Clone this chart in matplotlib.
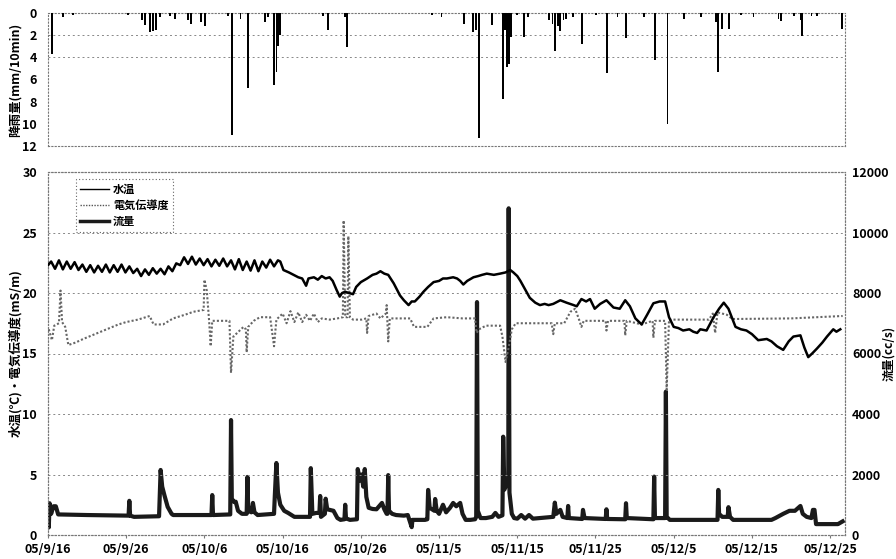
import matplotlib
matplotlib.use("Agg")
import matplotlib.pyplot as plt
from matplotlib.lines import Line2D

plt.rcParams['font.family'] = ['Noto Sans CJK JP', 'DejaVu Sans']
plt.rcParams['font.weight'] = 'bold'

# ---------------- data (x = days since 2005-09-16) ----------------
date_ticks = [0, 10, 20, 30, 40, 50, 60, 70, 80, 90, 100]
date_labels = ["05/9/16", "05/9/26", "05/10/6", "05/10/16", "05/10/26", "05/11/5",
               "05/11/15", "05/11/25", "05/12/5", "05/12/15", "05/12/25"]

rain_days = [0.5, 1.9, 3.2, 10.2, 12.0, 12.4, 13.0, 13.4, 13.8, 14.3, 15.6, 16.2, 17.9, 18.3,
             19.6, 20.1, 23.0, 23.5, 24.6, 25.6, 27.7, 28.1, 28.9, 29.2, 29.4, 29.7, 35.2, 35.8,
             38.0, 38.2, 49.1, 50.3, 53.2, 54.3, 54.7, 55.1, 56.8, 58.2, 58.4, 58.7, 58.9, 59.2,
             60.0, 60.9, 61.4, 64.1, 64.5, 64.8, 65.2, 65.5, 65.9, 66.2, 67.1, 68.3, 70.1, 71.5,
             72.8, 73.9, 76.2, 77.6, 79.2, 81.3, 83.5, 85.4, 85.7, 86.2, 87.1, 88.6, 90.2, 93.4,
             93.7, 95.4, 96.2, 96.4, 97.6, 98.3, 101.5]
rain_mm = [3.7, 0.4, 0.2, 0.2, 0.6, 1.1, 1.7, 1.6, 1.5, 0.4, 0.3, 0.5, 0.6, 1.0,
           0.8, 1.2, 0.3, 11.0, 0.5, 6.8, 0.8, 0.4, 6.5, 5.3, 3.0, 2.0, 0.3, 1.5,
           0.4, 3.1, 0.2, 0.4, 1.0, 1.7, 1.5, 11.3, 1.1, 7.8, 1.5, 4.9, 4.6, 2.2,
           0.2, 2.2, 0.4, 0.6, 1.0, 3.4, 1.2, 1.6, 0.6, 0.5, 0.4, 2.8, 0.2, 5.4,
           0.4, 2.3, 0.4, 4.2, 10.0, 0.5, 0.4, 0.8, 5.3, 1.4, 1.4, 0.2, 0.4, 0.5,
           0.7, 0.3, 0.6, 2.1, 0.3, 0.3, 1.4]

temp_days = [0.0, 0.4, 0.9, 1.4, 1.9, 2.4, 2.9, 3.4, 3.9, 4.4, 4.9, 5.4, 5.9, 6.4, 6.9, 7.4, 7.9,
             8.4, 8.9, 9.4, 9.9, 10.4, 10.9, 11.4, 11.9, 12.4, 12.9, 13.4, 13.9, 14.4, 14.9,
             15.4, 15.9, 16.4, 16.9, 17.4, 17.9, 18.4, 18.9, 19.4, 19.9, 20.4, 20.9, 21.4, 21.9,
             22.4, 22.9, 23.4, 23.9, 24.4, 24.9, 25.4, 25.9, 26.4, 26.9, 27.4, 27.9, 28.4, 28.9,
             29.4, 29.7, 30.1, 30.8, 31.4, 32.0, 32.5, 33.0, 33.3, 34.0, 34.5, 35.0, 35.5, 36.0,
             36.4, 36.9, 37.3, 37.6, 38.0, 38.5, 39.0, 39.4, 40.0, 40.8, 41.5, 42.0, 42.5, 43.0,
             43.5, 44.2, 45.0, 45.5, 46.1, 46.5, 46.9, 47.5, 48.0, 48.6, 49.3, 50.0, 50.5, 51.0,
             51.8, 52.3, 52.7, 53.1, 53.6, 54.4, 55.0, 55.5, 56.1, 57.0, 57.8, 58.5, 59.1, 59.5,
             60.0, 60.4, 61.0, 61.6, 62.3, 62.9, 63.5, 64.0, 64.6, 65.5, 66.3, 67.2, 67.6, 68.2,
             68.8, 69.3, 69.9, 70.6, 71.4, 72.3, 73.1, 73.8, 74.4, 75.1, 75.9, 76.6, 77.4, 78.2,
             78.9, 79.4, 80.0, 80.6, 81.2, 82.0, 82.5, 83.0, 83.4, 84.2, 85.1, 85.8, 86.4, 87.0,
             87.9, 88.6, 89.3, 90.0, 90.8, 91.9, 92.5, 93.2, 94.0, 94.7, 95.3, 96.2, 96.7, 97.2,
             97.7, 98.3, 99.0, 99.6, 100.4, 100.8, 101.3]
temp_vals = [22.3, 22.6, 22.0, 22.7, 21.95, 22.6, 22.0, 22.55, 21.9, 22.35, 21.75, 22.3, 21.7,
             22.25, 21.75, 22.35, 21.7, 22.3, 21.75, 22.35, 21.7, 22.2, 21.65, 22.0, 21.4,
             21.95, 21.5, 22.05, 21.6, 22.0, 21.55, 22.2, 21.8, 22.45, 22.3, 22.95, 22.4, 23.0,
             22.35, 22.85, 22.3, 22.8, 22.2, 22.75, 22.25, 22.85, 22.2, 22.7, 21.95, 22.8, 21.9,
             22.6, 21.85, 22.7, 21.8, 22.6, 22.1, 22.75, 22.2, 22.7, 22.6, 21.9, 21.7, 21.5,
             21.3, 21.2, 20.6, 21.2, 21.3, 21.1, 21.4, 21.2, 21.3, 21.0, 20.25, 19.7, 20.0, 20.1,
             20.0, 19.9, 20.5, 20.9, 21.2, 21.5, 21.6, 21.8, 21.6, 21.5, 20.8, 19.8, 19.4, 19.0,
             19.3, 19.3, 19.7, 20.1, 20.5, 20.9, 21.0, 21.2, 21.2, 21.3, 21.2, 21.0, 20.7, 21.0,
             21.3, 21.4, 21.5, 21.6, 21.5, 21.6, 21.7, 21.9, 21.7, 21.4, 21.0, 20.3, 19.6, 19.2,
             19.0, 19.1, 19.0, 19.1, 19.4, 19.2, 19.0, 18.9, 19.5, 19.3, 19.5, 18.7, 19.1, 19.4,
             18.8, 18.7, 19.4, 18.9, 17.9, 17.4, 18.2, 19.15, 19.3, 19.3, 18.0, 17.2, 17.1, 16.9,
             17.0, 16.8, 16.7, 17.0, 16.9, 18.0, 18.7, 19.2, 18.7, 17.2, 17.0, 16.9, 16.6, 16.1,
             16.2, 16.0, 15.6, 15.3, 16.0, 16.4, 16.5, 15.5, 14.7, 15.0, 15.4, 15.9, 16.4, 17.0,
             16.8, 17.0]

ec_days = [0.1, 0.5, 0.8, 1.4, 1.6, 1.8, 2.2, 2.6, 3.5, 4.5, 6.0, 7.5, 9.0, 10.0, 11.5, 13.0,
           13.5, 14.7, 16.0, 17.5, 18.6, 19.9, 20.0, 20.3, 20.6, 20.8, 21.0, 23.2, 23.4, 23.7,
           25.0, 25.3, 25.4, 25.6, 26.3, 27.1, 28.4, 28.9, 29.2, 30.0, 30.5, 31.0, 31.5, 32.0,
           32.5, 33.0, 33.5, 34.0, 34.5, 35.0, 36.0, 37.0, 37.7, 37.8, 38.0, 38.3, 38.4, 38.6,
           39.0, 40.1, 40.7, 40.8, 41.0, 42.0, 42.5, 43.2, 43.3, 43.5, 43.7, 44.5, 46.3, 46.8,
           48.5, 49.3, 51.0, 53.0, 54.6, 54.8, 55.1, 56.0, 57.8, 58.1, 58.5, 58.9, 59.3, 59.8,
           62.0, 64.4, 64.6, 64.8, 66.0, 66.8, 67.4, 67.9, 68.2, 68.5, 71.3, 71.4, 71.6, 73.7,
           73.8, 74.0, 75.9, 77.3, 77.4, 77.6, 78.9, 79.1, 79.4, 84.5, 85.0, 85.3, 85.6, 86.8,
           87.5, 95.0, 101.6]
ec_vals = [17.0, 16.1, 17.3, 17.5, 20.2, 17.6, 17.2, 15.7, 15.9, 16.2, 16.6, 17.0, 17.4, 17.6,
           17.8, 18.1, 17.4, 17.4, 17.9, 18.2, 18.45, 18.6, 21.1, 20.2, 17.7, 15.6, 17.7, 17.7,
           13.4, 16.4, 17.2, 17.0, 15.1, 17.2, 17.7, 18.0, 18.0, 15.6, 17.8, 18.3, 17.5, 18.5,
           17.6, 18.4, 17.6, 18.2, 17.7, 18.3, 17.6, 17.9, 17.8, 17.9, 18.0, 26.0, 18.0, 18.0,
           24.7, 18.0, 17.8, 17.8, 17.9, 16.7, 18.1, 18.3, 17.9, 18.3, 19.0, 16.0, 17.9, 17.9,
           17.9, 17.2, 17.2, 17.9, 18.0, 17.9, 17.9, 16.7, 17.0, 17.3, 17.3, 16.4, 14.3, 15.5,
           17.0, 17.5, 17.5, 17.5, 16.6, 17.5, 17.5, 18.45, 18.7, 17.8, 17.2, 17.7, 17.7, 16.9,
           17.7, 17.7, 16.5, 17.7, 17.4, 17.7, 16.3, 17.7, 17.7, 12.0, 17.8, 17.8, 18.3, 16.7,
           18.4, 18.2, 17.85, 17.9, 18.1]

flow_days = [0.05, 0.1, 0.2, 0.4, 0.7, 1.0, 1.3, 5.0, 10.3, 10.4, 10.5, 11.0, 14.2, 14.4, 14.6,
             14.9, 15.3, 15.8, 16.0, 20.9, 21.0, 21.1, 23.3, 23.4, 23.5, 23.8, 24.0, 24.3, 24.8,
             25.4, 25.5, 25.6, 26.0, 26.2, 26.4, 26.8, 28.9, 29.0, 29.2, 29.4, 29.7, 30.2, 30.7,
             31.5, 33.5, 33.6, 33.8, 34.3, 34.7, 34.8, 34.9, 35.4, 35.5, 35.7, 36.0, 36.5, 37.0,
             37.4, 37.9, 38.0, 38.1, 38.6, 39.5, 39.6, 39.9, 40.1, 40.3, 40.5, 40.7, 41.0, 41.5,
             42.0, 42.7, 43.0, 43.3, 43.4, 43.5, 43.6, 44.0, 44.5, 45.5, 46.0, 46.5, 46.6, 47.5,
             48.2, 48.5, 48.6, 48.8, 49.4, 49.5, 49.7, 50.0, 50.5, 50.9, 51.4, 51.8, 52.2, 52.7,
             53.0, 53.4, 54.0, 54.6, 54.75, 54.85, 54.95, 55.3, 56.0, 56.8, 57.2, 57.6, 58.1,
             58.2, 58.35, 58.85, 58.9, 59.0, 59.3, 59.6, 60.0, 60.5, 61.0, 61.5, 62.0, 64.6,
             64.8, 65.0, 65.2, 65.5, 65.8, 66.4, 66.5, 66.6, 68.3, 68.4, 68.6, 71.3, 71.4, 71.5,
             73.8, 73.9, 74.0, 77.4, 77.5, 77.6, 78.9, 79.0, 79.1, 79.5, 85.6, 85.7, 85.8, 86.2,
             86.9, 87.0, 87.2, 87.6, 92.5, 93.0, 94.0, 94.8, 95.5, 96.2, 96.5, 97.0, 97.6, 97.8,
             98.0, 98.2, 101.0, 101.6]
flow_vals = [700, 250, 1050, 700, 950, 950, 680, 660, 640, 1130, 640, 600, 620, 2150, 1600,
             1300, 930, 700, 660, 660, 1320, 660, 680, 3800, 1200, 1090, 1100, 800, 700,
             700, 1920, 800, 750, 1060, 750, 660, 700, 1300, 2380, 1400, 1000, 800, 730,
             600, 600, 2210, 700, 730, 730, 1290, 600, 700, 1200, 850, 830, 800, 560,
             500, 520, 1000, 550, 500, 520, 2180, 1800, 2000, 1600, 2180, 1260, 900, 860,
             850, 1060, 850, 700, 700, 1980, 800, 700, 660, 640, 660, 260, 500, 500,
             500, 520, 1490, 900, 800, 1190, 800, 700, 1000, 750, 900, 1060, 950, 1060,
             700, 500, 500, 520, 600, 7700, 800, 560, 560, 600, 730, 600, 650,
             3250, 1500, 1800, 10800, 1400, 700, 560, 540, 660, 540, 660, 540, 600,
             1070, 700, 750, 830, 600, 560, 960, 560, 530, 830, 560, 530, 850, 530,
             520, 1050, 560, 520, 1930, 560, 560, 4740, 600, 500, 500, 1490, 700, 600,
             600, 920, 600, 500, 500, 560, 700, 800, 800, 960, 700, 600, 560, 830,
             830, 360, 360, 450]

# ---------------- figure ----------------
fig = plt.figure(figsize=(8.96, 5.59), dpi=100)
L, W = 48 / 896, 797 / 896
ax_r = fig.add_axes([L, 1 - 146 / 559, W, 133 / 559])
ax = fig.add_axes([L, 1 - 535 / 559, W, 363 / 559])
ax2 = ax.twinx()

XMAX = 101.9
grid_kw = dict(color='#888888', linestyle=(0, (2, 3)), linewidth=0.7)
tick_font = dict(fontsize=9, fontweight='bold')

# Rain panel
ax_r.bar(rain_days, rain_mm, width=0.22, color='black', align='center', zorder=3)
ax_r.set_xlim(0, XMAX)
ax_r.set_ylim(12, 0)
ax_r.set_yticks([0, 2, 4, 6, 8, 10, 12])
ax_r.set_yticklabels(['0', '2', '4', '6', '8', '10', '12'], **tick_font)
ax_r.set_xticks([])
for yv in [2, 4]:
    ax_r.axhline(yv, **grid_kw, zorder=1)
for s in ax_r.spines.values():
    s.set_linestyle((0, (1, 2)))
    s.set_color('#777777')
    s.set_linewidth(0.8)
ax_r.tick_params(axis='y', length=0, pad=8)
ax_r.set_ylabel('降雨量(mm/10min)', fontsize=9, fontweight='bold')
ax_r.yaxis.set_label_coords(-0.032, 0.5)

# Main panel
ax.set_xlim(0, XMAX)
ax.set_ylim(0, 30)
ax.set_yticks([0, 5, 10, 15, 20, 25, 30])
ax.set_yticklabels(['0', '5', '10', '15', '20', '25', '30'], **tick_font)
ax.set_xticks(date_ticks)
ax.set_xticklabels(date_labels, **tick_font)
for yv in [5, 10, 15, 20, 25]:
    ax.axhline(yv, **grid_kw, zorder=1)
ax.tick_params(axis='y', length=0, pad=8)
ax.tick_params(axis='x', length=2, pad=4, color='#777777')

ax2.set_ylim(0, 12000)
ax2.set_yticks([0, 2000, 4000, 6000, 8000, 10000, 12000])
ax2.set_yticklabels(['0', '2000', '4000', '6000', '8000', '10000', '12000'], **tick_font)
ax2.tick_params(axis='y', length=0, pad=5)

for a in (ax, ax2):
    for s in a.spines.values():
        s.set_linestyle((0, (1, 2)))
        s.set_color('#777777')
        s.set_linewidth(0.8)

ax2.plot(flow_days, flow_vals, color='#1a1a1a', linewidth=3.0, solid_joinstyle='round', zorder=2)
ax.set_zorder(ax2.get_zorder() + 1)
ax.patch.set_visible(False)
ax.plot(ec_days, ec_vals, color='#666666', linestyle=(0, (1, 1)), linewidth=1.5, zorder=3)
ax.plot(temp_days, temp_vals, color='black', linewidth=1.8, zorder=4)

ax.set_ylabel('水温(℃)・電気伝導度(mS/m)', fontsize=9, fontweight='bold')
ax.yaxis.set_label_coords(-0.032, 0.5)
ax2.set_ylabel('流量(cc/s)', fontsize=8.5, fontweight='bold')
ax2.yaxis.set_label_coords(1.0465, 0.5)

handles = [Line2D([], [], color='black', linewidth=1.0),
           Line2D([], [], color='#555555', linestyle=(0, (1, 1)), linewidth=1.0),
           Line2D([], [], color='#1a1a1a', linewidth=2.5)]
leg = ax.legend(handles, ['水温', '電気伝導度', '流量'], loc='upper left',
                bbox_to_anchor=(0.028, 0.997), prop=dict(size=8, weight='bold'),
                fancybox=False, handlelength=2.6, handletextpad=0.4, labelspacing=0.3,
                borderpad=0.35, framealpha=1)
leg.get_frame().set_edgecolor('#666666')
leg.get_frame().set_linestyle((0, (1, 2)))
leg.get_frame().set_linewidth(0.8)

fig.savefig('out.png', dpi=100)
